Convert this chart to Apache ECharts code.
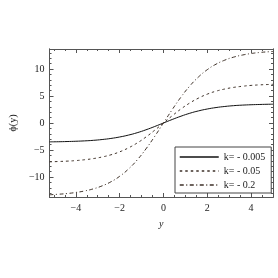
<!DOCTYPE html>
<html><head><meta charset="utf-8">
<script src="https://cdn.jsdelivr.net/npm/echarts@6/dist/echarts.min.js"></script>
<style>html,body{margin:0;padding:0;background:#fff}#c{width:278px;height:278px}</style>
</head><body><div id="c"></div>
<script>
var xs = [-5.2,-4.8,-4.4,-4.0,-3.6,-3.2,-2.8,-2.4,-2.0,-1.6,-1.2,-0.8,-0.4,0,0.4,0.8,1.2,1.6,2.0,2.4,2.8,3.2,3.6,4.0,4.4,4.8,5.0];
var phiK005 = [-3.49,-3.47,-3.43,-3.38,-3.31,-3.21,-3.06,-2.86,-2.59,-2.24,-1.80,-1.26,-0.65,0,0.65,1.26,1.80,2.24,2.59,2.86,3.06,3.21,3.31,3.38,3.43,3.47,3.48];
var phiK05 = [-7.19,-7.13,-7.06,-6.96,-6.80,-6.59,-6.29,-5.89,-5.34,-4.61,-3.70,-2.60,-1.34,0,1.34,2.60,3.70,4.61,5.34,5.89,6.29,6.59,6.80,6.96,7.06,7.13,7.16];
var phiK2 = [-13.29,-13.19,-13.06,-12.86,-12.58,-12.19,-11.64,-10.89,-9.87,-8.53,-6.84,-4.80,-2.48,0,2.48,4.80,6.84,8.53,9.87,10.89,11.64,12.19,12.58,12.86,13.06,13.19,13.24];
var seriesNames = ['k= - 0.005','k= - 0.05','k= - 0.2'];
var xMajor = [-4,-2,0,2,4];
var xMinor = [-5,-4.5,-3.5,-3,-2.5,-1.5,-1,-0.5,0.5,1,1.5,2.5,3,3.5,4.5,5];
var yMajor = [-10,-5,0,5,10];
var yMinor = [-13,-12,-11,-9,-8,-7,-6,-4,-3,-2,-1,1,2,3,4,6,7,8,9,11,12,13];

function pairs(ys){ return xs.map(function(x,i){ return [x, ys[i]]; }); }
var serif = 'Liberation Serif';
var frameColor = '#555';
function fmt(v){ return v < 0 ? '\u2212' + Math.abs(v) : String(v); }

function xAx(pos, vals, len, labels, extra){
  var a = {type:'value', position:pos, min:-5.2, max:5, gridIndex:0,
    axisLine:{show:true, onZero:false, lineStyle:{color:frameColor, width:1}},
    axisTick:{show:true, inside:true, length:len, customValues:vals, lineStyle:{color:frameColor, width:1}},
    axisLabel:{show:labels, customValues:vals, formatter:fmt, fontFamily:serif, fontSize:10, color:'#222', margin:6},
    splitLine:{show:false}};
  for (var k in extra) a[k]=extra[k];
  return a;
}
function yAx(pos, vals, len, labels, extra){
  var a = {type:'value', position:pos, min:-13.7, max:13.7, gridIndex:0,
    axisLine:{show:true, onZero:false, lineStyle:{color:frameColor, width:1}},
    axisTick:{show:true, inside:true, length:len, customValues:vals, lineStyle:{color:frameColor, width:1}},
    axisLabel:{show:labels, customValues:vals, formatter:fmt, fontFamily:serif, fontSize:10, color:'#222', margin:5},
    splitLine:{show:false}};
  for (var k in extra) a[k]=extra[k];
  return a;
}

var chart = echarts.init(document.getElementById('c'), null, {renderer:'canvas'});
chart.setOption({
  animation:false,
  backgroundColor:'#fff',
  grid:{left:37, right:5, top:49, bottom:81, show:false},
  xAxis:[
    xAx('bottom', xMajor, 4, true, {name:'y', nameLocation:'middle', nameGap:22, nameTextStyle:{fontFamily:serif, fontStyle:'italic', fontSize:10, color:'#222'}}),
    xAx('bottom', xMinor, 2, false, {}),
    xAx('top', xMajor, 4, false, {}),
    xAx('top', xMinor, 2, false, {})
  ],
  yAxis:[
    yAx('left', yMajor, 4, true, {name:'\u03D5(y)', nameLocation:'middle', nameRotate:90, nameGap:29, nameTextStyle:{fontFamily:serif, fontSize:10, color:'#222'}}),
    yAx('left', yMinor, 2, false, {}),
    yAx('right', yMajor, 4, false, {}),
    yAx('right', yMinor, 2, false, {})
  ],
  legend:{
    orient:'vertical', left:175, top:147, width:97,
    padding:[5,6,3,4], itemGap:4, itemWidth:39, itemHeight:10,
    backgroundColor:'#fff', borderColor:'#444', borderWidth:1, borderRadius:0,
    itemStyle:{opacity:0},
    lineStyle:{width:1.5},
    textStyle:{fontFamily:serif, fontSize:10, color:'#222'},
    data:seriesNames
  },
  series:[
    {name:seriesNames[0], type:'line', data:pairs(phiK005), smooth:true, symbol:'none', lineStyle:{color:'#111', width:1, type:'solid'}, itemStyle:{color:'#111'}},
    {name:seriesNames[1], type:'line', data:pairs(phiK05), smooth:true, symbol:'none', lineStyle:{color:'#3e3128', width:1, type:[2.5,3]}, itemStyle:{color:'#3e3128'}},
    {name:seriesNames[2], type:'line', data:pairs(phiK2), smooth:true, symbol:'none', lineStyle:{color:'#3e3128', width:1, type:[4,2.5,1,2.5]}, itemStyle:{color:'#3e3128'}}
  ]
});
</script></body></html>
